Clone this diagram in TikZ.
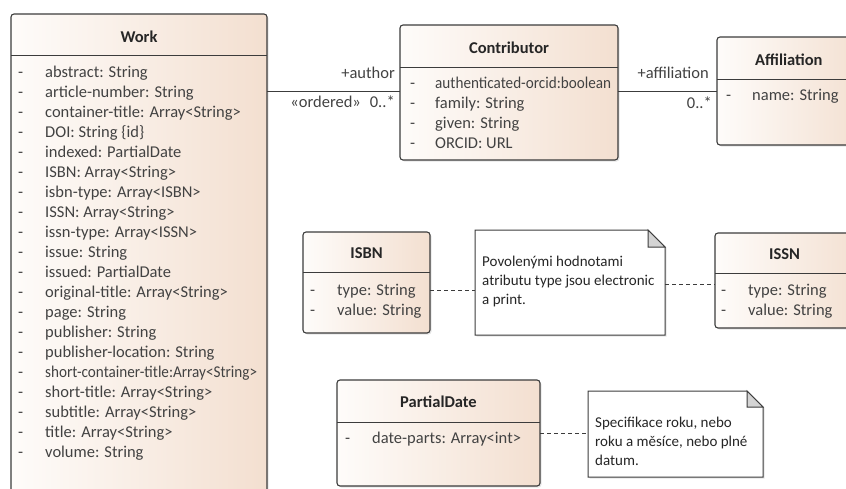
\documentclass[tikz,border=0pt]{standalone}
\usepackage{fontspec}
\setmainfont{Carlito}
\usetikzlibrary{positioning, shadows}

\definecolor{ink}{RGB}{60,60,60}
\definecolor{textgray}{RGB}{66,66,66}
\definecolor{classleft}{RGB}{254,252,250}
\definecolor{classright}{RGB}{243,223,208}
\definecolor{foldgray}{RGB}{212,212,212}

\newcommand{\tightattr}[1]{\scalebox{0.92}[1]{#1}}

\tikzset{
    classbox/.style={
        rectangle,
        draw=ink,
        line width=1.1pt,
        rounded corners=3pt,
        left color=classleft,
        right color=classright,
        anchor=north west,
        inner sep=0pt,
        outer sep=0pt,
        drop shadow={shadow xshift=1.5pt, shadow yshift=-1.5pt, opacity=0.2}
    },
    classline/.style={draw=ink, line width=1pt},
    classtitle/.style={
        anchor=base,
        inner sep=0pt,
        font=\fontsize{16.5}{19}\selectfont\bfseries,
        text=black!85
    },
    attr/.style={
        anchor=base west,
        inner sep=0pt,
        font=\fontsize{16.5}{19}\selectfont,
        text=textgray
    },
    notebox/.style={
        rectangle,
        anchor=north west,
        inner sep=0pt,
        outer sep=0pt
    },
    notebody/.style={
        draw=ink,
        line width=1pt,
        fill=white,
        drop shadow={shadow xshift=1.5pt, shadow yshift=-1.5pt, opacity=0.2}
    },
    notefold/.style={draw=ink, line width=1pt, fill=foldgray},
    notetext/.style={
        anchor=north west,
        align=left,
        inner sep=0pt,
        font=\fontsize{15}{19}\selectfont,
        text=black!85
    },
    assoc/.style={draw=ink, line width=1pt},
    notelink/.style={draw=ink, line width=1pt, dash pattern=on 4pt off 3pt},
    rolelabel/.style={
        anchor=base east,
        inner sep=0pt,
        font=\fontsize{16.5}{19}\selectfont,
        text=textgray
    }
}

\begin{document}
\begin{tikzpicture}[x=1pt, y=-1pt]

\clip (0,0) rectangle (846,488);
\fill[white] (0,0) rectangle (846,488);

% --- Work ---
\node[classbox, minimum width=256pt, minimum height=520pt] (work) at (11,14) {};
\draw[classline] (work.west |- 0,55) -- (work.east |- 0,55);
\node[classtitle] (work-title) at (work.north |- 0,42) {Work};
\foreach \attr [count=\i from 0] in {
    abstract: String,
    article-number: String,
    container-title: Array<String>,
    DOI: String \{id\},
    indexed: PartialDate,
    ISBN: Array<String>,
    isbn-type: Array<ISBN>,
    ISSN: Array<String>,
    issn-type: Array<ISSN>,
    issue: String,
    issued: PartialDate,
    original-title: Array<String>,
    page: String,
    publisher: String,
    publisher-location: String,
    \tightattr{short-container-title:Array<String>},
    short-title: Array<String>,
    subtitle: Array<String>,
    title: Array<String>,
    volume: String
} {
    \node[attr] (work-d\i) at (18, 77.5+20*\i) {-};
    \node[attr] (work-a\i) at (45, 77.5+20*\i) {\attr};
}

% --- Contributor ---
\node[classbox, minimum width=218pt, minimum height=135pt] (contributor) at (400,25) {};
\draw[classline] (contributor.west |- 0,67) -- (contributor.east |- 0,67);
\node[classtitle] (contributor-title) at (contributor.north |- 0,53) {Contributor};
\foreach \attr [count=\i from 0] in {
    \tightattr{authenticated-orcid:boolean},
    family: String,
    given: String,
    ORCID: URL
} {
    \node[attr] (contributor-d\i) at (410, 88.5+20*\i) {-};
    \node[attr] (contributor-a\i) at (435, 88.5+20*\i) {\attr};
}

% --- Affiliation ---
\node[classbox, minimum width=150pt, minimum height=108pt] (affiliation) at (717,37) {};
\draw[classline] (affiliation.west |- 0,79) -- (affiliation.east |- 0,79);
\node[classtitle, anchor=base west] (affiliation-title) at (755,65) {Affiliation};
\node[attr] (affiliation-d0) at (726,100.5) {-};
\node[attr] (affiliation-a0) at (752,100.5) {name: String};

% --- Associations ---
\coordinate (assocrow) at (0,91);
\draw[assoc] (work.east |- assocrow) -- (contributor.west |- assocrow);
\draw[assoc] (contributor.east |- assocrow) -- (affiliation.west |- assocrow);
\node[rolelabel] (author-role) at (395,78) {+author};
\node[rolelabel] (author-mult) at (395,107) {«ordered»\hspace{9pt}0..*};
\node[rolelabel] (affil-role) at (709,78) {+affiliation};
\node[rolelabel] (affil-mult) at (712,108) {0..*};

% --- ISBN ---
\node[classbox, minimum width=127pt, minimum height=101pt] (isbn) at (303,232) {};
\draw[classline] (isbn.west |- 0,272) -- (isbn.east |- 0,272);
\node[classtitle] (isbn-title) at (isbn.north |- 0,258) {ISBN};
\node[attr] (isbn-d0) at (310,295.5) {-};
\node[attr] (isbn-a0) at (337,295.5) {type: String};
\node[attr] (isbn-d1) at (310,315.5) {-};
\node[attr] (isbn-a1) at (337,315.5) {value: String};

% --- Note: type values ---
\node[notebox, minimum width=190pt, minimum height=105pt] (typenote) at (475,230) {};
\draw[notebody] (typenote.north west) -- ([xshift=-17pt]typenote.north east)
    -- ([yshift=-17pt]typenote.north east) -- (typenote.south east)
    -- (typenote.south west) -- cycle;
\draw[notefold] ([xshift=-17pt]typenote.north east) -- ([xshift=-17pt, yshift=-17pt]typenote.north east)
    -- ([yshift=-17pt]typenote.north east) -- cycle;
\node[notetext] (typenote-text) at ([xshift=7pt, yshift=-26pt]typenote.north west)
    {Povolenými hodnotami\\atributu type jsou electronic\\a print.};

% --- ISSN ---
\node[classbox, minimum width=150pt, minimum height=95pt] (issn) at (715,233) {};
\draw[classline] (issn.west |- 0,273) -- (issn.east |- 0,273);
\node[classtitle, anchor=base west] (issn-title) at (769,259) {ISSN};
\node[attr] (issn-d0) at (721,295.5) {-};
\node[attr] (issn-a0) at (748,295.5) {type: String};
\node[attr] (issn-d1) at (721,315.5) {-};
\node[attr] (issn-a1) at (748,315.5) {value: String};

\draw[notelink] (isbn.east |- 0,290) -- (typenote.west |- 0,290);
\draw[notelink] (typenote.east |- 0,284) -- (issn.west |- 0,284);

% --- PartialDate ---
\node[classbox, minimum width=203pt, minimum height=106pt] (partialdate) at (337,380) {};
\draw[classline] (partialdate.west |- 0,422) -- (partialdate.east |- 0,422);
\node[classtitle] (partialdate-title) at (partialdate.north |- 0,407) {PartialDate};
\node[attr] (partialdate-d0) at (345,443.5) {-};
\node[attr] (partialdate-a0) at (372,443.5) {date-parts: Array<int>};

% --- Note: date precision ---
\node[notebox, minimum width=175pt, minimum height=86pt] (datenote) at (588,391) {};
\draw[notebody] (datenote.north west) -- ([xshift=-16pt]datenote.north east)
    -- ([yshift=-16pt]datenote.north east) -- (datenote.south east)
    -- (datenote.south west) -- cycle;
\draw[notefold] ([xshift=-16pt]datenote.north east) -- ([xshift=-16pt, yshift=-16pt]datenote.north east)
    -- ([yshift=-16pt]datenote.north east) -- cycle;
\node[notetext] (datenote-text) at ([xshift=7pt, yshift=-26pt]datenote.north west)
    {Specifikace roku, nebo\\roku a měsíce, nebo plné\\datum.};

\draw[notelink] (partialdate.east |- 0,433) -- (datenote.west |- 0,433);

\end{tikzpicture}
\end{document}
